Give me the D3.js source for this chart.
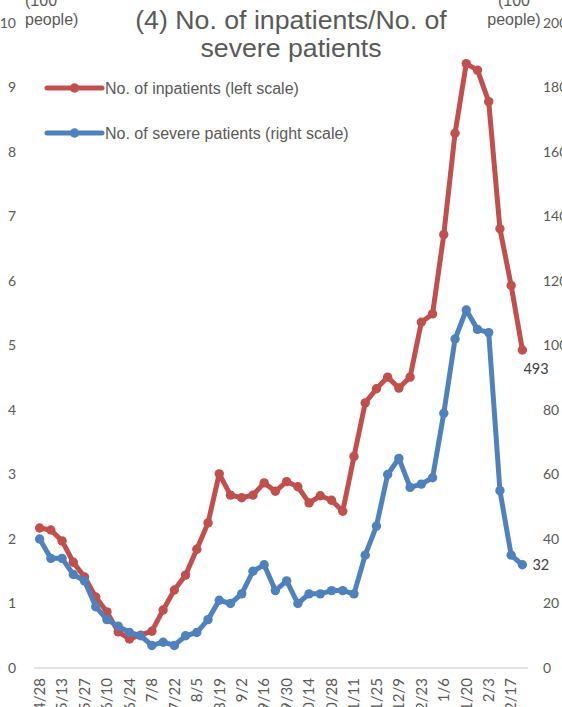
<!DOCTYPE html>
<html>
<head>
<meta charset="utf-8">
<script src="https://cdn.jsdelivr.net/npm/d3@7"></script>
<style>
  html, body { margin: 0; padding: 0; background: #fff; }
  svg { display: block; }
</style>
</head>
<body>
<svg id="chart" width="562" height="707"></svg>
<script>
const dates = ["4/28","5/6","5/13","5/20","5/27","6/3","6/10","6/17","6/24","7/1","7/8","7/15","7/22","7/29","8/5","8/12","8/19","8/26","9/2","9/9","9/16","9/23","9/30","10/7","10/14","10/21","10/28","11/4","11/11","11/18","11/25","12/2","12/9","12/16","12/23","12/30","1/6","1/13","1/20","1/27","2/3","2/10","2/17","2/24"];
const inpatients = [217,214,197,164,141,110,87,56,45,51,57,90,121,144,184,225,301,268,264,268,287,274,289,281,256,267,260,243,328,411,433,451,434,451,536,549,672,829,937,927,878,681,593,493];
const severe = [40,34,34,29,27,19,15,13,11,10,7,8,7,10,11,15,21,20,23,30,32,24,27,20,23,23,24,24,23,35,44,60,65,56,57,59,79,102,111,105,104,55,35,32];
const leftTicks = [0,1,2,3,4,5,6,7,8,9,10];
const rightTicks = [0,20,40,60,80,100,120,140,160,180,200];
const titleLines = ["(4) No. of inpatients/No. of", "severe patients"];
const seriesNames = ["No. of inpatients (left scale)", "No. of severe patients (right scale)"];
const colors = ["#C0504D", "#4F81BD"];

const svg = d3.select("#chart");
const textColor = "#595959";
const numFont = "Lato, 'Liberation Sans', sans-serif";
const txtFont = "'Liberation Sans', Arial, sans-serif";

const x = d3.scaleBand().domain(dates).range([34, 528]);
const yL = d3.scaleLinear().domain([0, 1000]).range([668, 23]);
const yR = d3.scaleLinear().domain([0, 200]).range([668, 23]);
const cx = d => x(d) + x.bandwidth() / 2;

// axis baseline
svg.append("line").attr("x1", 34).attr("x2", 528).attr("y1", yL(0)).attr("y2", yL(0))
  .attr("stroke", "#d9d9d9").attr("stroke-width", 1.3);

// left ticks
svg.append("g").selectAll("text").data(leftTicks).join("text")
  .attr("x", 16).attr("y", d => yL(d * 100)).attr("dy", "0.35em")
  .attr("text-anchor", "end").attr("fill", textColor)
  .style("font-family", numFont).style("font-size", "14px").text(d => d);

// right ticks
svg.append("g").selectAll("text").data(rightTicks).join("text")
  .attr("x", 543).attr("y", d => yR(d)).attr("dy", "0.35em")
  .attr("text-anchor", "start").attr("fill", textColor)
  .style("font-family", numFont).style("font-size", "14px").text(d => d);

// x tick labels (every other)
svg.append("g").selectAll("text").data(dates.filter((d, i) => i % 2 === 0)).join("text")
  .attr("transform", d => `translate(${cx(d)},678) rotate(-90)`)
  .attr("dy", "0.35em").attr("text-anchor", "end").attr("fill", textColor)
  .style("font-family", numFont).style("font-size", "15px").text(d => d);

// axis titles
const lt = svg.append("text").attr("fill", textColor).style("font-family", txtFont).style("font-size", "16px");
lt.append("tspan").attr("x", 25).attr("y", 6).text("(100");
lt.append("tspan").attr("x", 25).attr("y", 25).text("people)");
const rt = svg.append("text").attr("fill", textColor).attr("text-anchor", "middle").style("font-family", txtFont).style("font-size", "16px");
rt.append("tspan").attr("x", 514).attr("y", 6).text("(100");
rt.append("tspan").attr("x", 514).attr("y", 25).text("people)");

// title
const tt = svg.append("text").attr("fill", textColor).attr("text-anchor", "middle")
  .style("font-family", txtFont).style("font-size", "26.7px");
titleLines.forEach((t, i) => tt.append("tspan").attr("x", 291).attr("y", 29 + i * 28).text(t));

// lines
const lineL = d3.line().x((d, i) => cx(dates[i])).y(d => yL(d));
const lineR = d3.line().x((d, i) => cx(dates[i])).y(d => yR(d));

function drawSeries(vals, line, yS, color) {
  svg.append("path").datum(vals).attr("d", line).attr("fill", "none")
    .attr("stroke", color).attr("stroke-width", 5).attr("stroke-linejoin", "round").attr("stroke-linecap", "round");
  svg.append("g").selectAll("circle").data(vals).join("circle")
    .attr("cx", (d, i) => cx(dates[i])).attr("cy", d => yS(d)).attr("r", 4.7).attr("fill", color);
}
drawSeries(inpatients, lineL, yL, colors[0]);
drawSeries(severe, lineR, yR, colors[1]);

// data labels on last points
const last = dates.length - 1;
svg.append("text").attr("x", cx(dates[last]) + 1).attr("y", yL(inpatients[last]) + 24)
  .attr("fill", "#404040").style("font-family", numFont).style("font-size", "14.5px")
  .text(inpatients[last]);
svg.append("text").attr("x", cx(dates[last]) + 10).attr("y", yR(severe[last])).attr("dy", "0.35em")
  .attr("fill", "#404040").style("font-family", numFont).style("font-size", "14.5px")
  .text(severe[last]);

// legend
const legY = [88, 133];
seriesNames.forEach((name, i) => {
  const g = svg.append("g");
  g.append("line").attr("x1", 47).attr("x2", 102).attr("y1", legY[i]).attr("y2", legY[i])
    .attr("stroke", colors[i]).attr("stroke-width", 5).attr("stroke-linecap", "round");
  g.append("circle").attr("cx", 74.5).attr("cy", legY[i]).attr("r", 4.7).attr("fill", colors[i]);
  g.append("text").attr("x", 105).attr("y", legY[i]).attr("dy", "0.35em").attr("fill", textColor)
    .style("font-family", txtFont).style("font-size", "16px").text(name);
});
</script>
</body>
</html>
